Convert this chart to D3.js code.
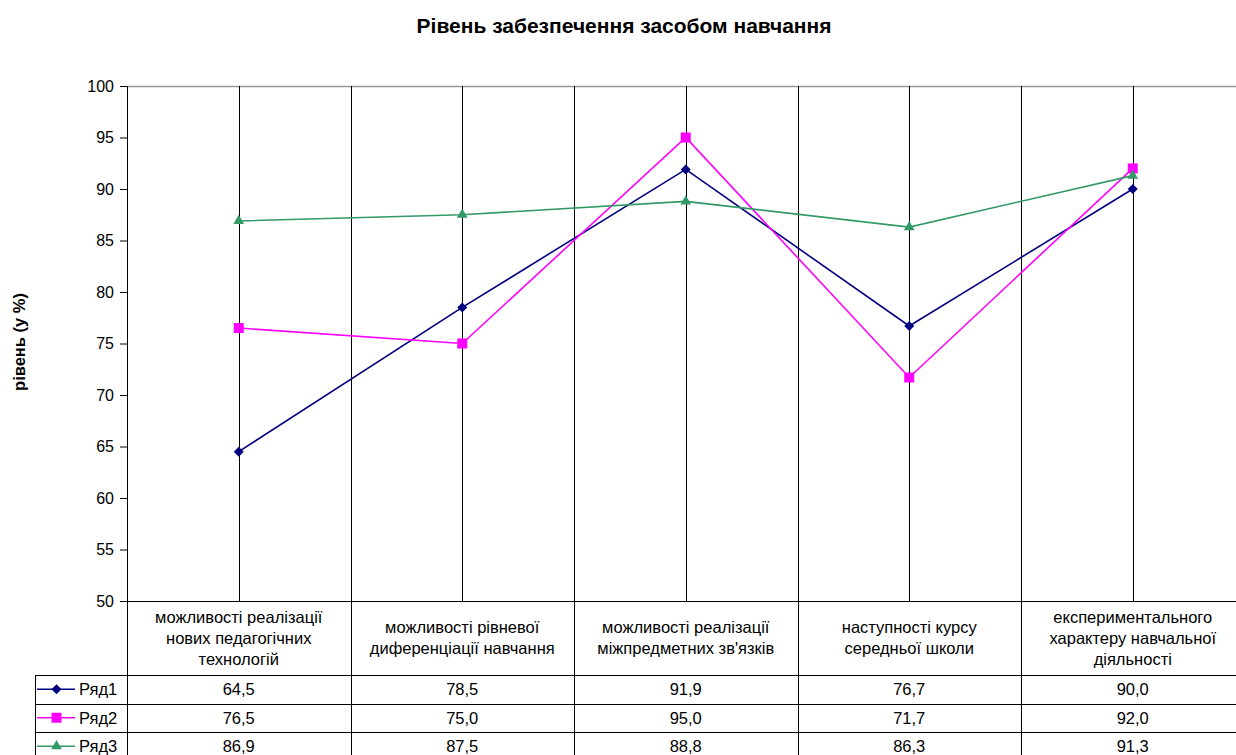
<!DOCTYPE html>
<html><head><meta charset="utf-8">
<script src="https://cdn.jsdelivr.net/npm/d3@7"></script>
<style>body{margin:0;background:#fff;overflow:hidden}svg{display:block}text{font-family:"Liberation Sans",Arial,sans-serif}</style>
</head><body>
<svg id="c" width="1236" height="755"></svg>
<script>
const title = "Рівень забезпечення засобом навчання";
const yTitle = "рівень (у %)";
const categories = [
  ["можливості реалізації","нових педагогічних","технологій"],
  ["можливості рівневої","диференціації навчання"],
  ["можливості реалізації","міжпредметних зв'язків"],
  ["наступності курсу","середньої школи"],
  ["експериментального","характеру навчальної","діяльності"]
];
const seriesNames = ["Ряд1","Ряд2","Ряд3"];
const ryad1 = [64.5, 78.5, 91.9, 76.7, 90.0];
const ryad2 = [76.5, 75.0, 95.0, 71.7, 92.0];
const ryad3 = [86.9, 87.5, 88.8, 86.3, 91.3];
const yTicks = [50,55,60,65,70,75,80,85,90,95,100];

(function(){
const series = [
  {name: seriesNames[0], values: ryad1, color: "#000080", sym: d3.symbolSquare, size: 50, rot: 45},
  {name: seriesNames[1], values: ryad2, color: "#FF00FF", sym: d3.symbolSquare, size: 100, rot: 0},
  {name: seriesNames[2], values: ryad3, color: "#339966", sym: d3.symbolTriangle, size: 50, rot: 0}
];

const svg = d3.select("#c");
const pL = 127, pR = 1244.5, pT = 86, pB = 601;
const idx = d3.range(categories.length);
const x = d3.scaleBand().domain(idx).range([pL, pR]);
const y = d3.scaleLinear().domain([50, 100]).range([pB, pT]);
const cx = i => x(i) + x.bandwidth()/2;
const FS = 16.5;

svg.append("text").attr("x", 624).attr("y", 33).attr("text-anchor","middle")
  .attr("font-size", 21).attr("font-weight","bold").text(title);

svg.append("text").attr("transform","translate(25,342) rotate(-90)").attr("text-anchor","middle")
  .attr("font-size", 16.5).attr("font-weight","bold").text(yTitle);

svg.append("line").attr("x1", pL).attr("x2", pR).attr("y1", pT+0.5).attr("y2", pT+0.5)
  .attr("stroke","#999").attr("stroke-width",1.5);

const g = svg.append("g");
idx.forEach(i => {
  g.append("line").attr("x1", Math.round(cx(i))+0.5).attr("x2", Math.round(cx(i))+0.5)
    .attr("y1", pT).attr("y2", pB).attr("stroke","#000").attr("stroke-width",1);
  if (i > 0) g.append("line").attr("x1", Math.round(x(i))+0.5).attr("x2", Math.round(x(i))+0.5)
    .attr("y1", pT).attr("y2", pB).attr("stroke","#000").attr("stroke-width",1);
});

const yAxis = d3.axisLeft(y).tickValues(yTicks).tickSize(7).tickPadding(6).tickFormat(d3.format("d"));
const ya = svg.append("g").attr("transform", `translate(${pL},0)`).call(yAxis);
ya.select(".domain").remove();
ya.selectAll("line").attr("stroke","#000");
ya.selectAll("text").attr("font-size", 16).attr("fill","#000").style("font-family","Liberation Sans, Arial, sans-serif");
svg.append("line").attr("x1", pL+0.5).attr("x2", pL+0.5).attr("y1", pT).attr("y2", pB).attr("stroke","#000");

const sym = s => d3.symbol().type(s.sym).size(s.size)();
const line = d3.line().x((d,i)=>cx(i)).y(d=>y(d));
series.forEach(s => {
  svg.append("path").datum(s.values).attr("d", line).attr("fill","none")
    .attr("stroke", s.color).attr("stroke-width", 1.6);
  svg.selectAll(null).data(s.values).enter().append("path")
    .attr("transform", (d,i)=>`translate(${cx(i)},${y(d)}) rotate(${s.rot})`)
    .attr("d", sym(s)).attr("fill", s.color);
});

const rowTops = [675, 703.5, 732, 760.5];
const tableLeft = 35;
const t = svg.append("g").attr("stroke","#000").attr("stroke-width",1);
t.append("line").attr("x1", pL).attr("x2", pR).attr("y1", pB+0.5).attr("y2", pB+0.5);
rowTops.forEach(r => t.append("line").attr("x1", tableLeft).attr("x2", pR).attr("y1", Math.round(r)+0.5).attr("y2", Math.round(r)+0.5));
idx.concat([categories.length]).forEach(i => {
  const xx = i === categories.length ? pR : x(i);
  t.append("line").attr("x1", Math.round(xx)+0.5).attr("x2", Math.round(xx)+0.5).attr("y1", pB).attr("y2", 762);
});
t.append("line").attr("x1", tableLeft+0.5).attr("x2", tableLeft+0.5).attr("y1", rowTops[0]).attr("y2", 762);

idx.forEach(i => {
  const lines = categories[i];
  const lh = 21;
  const mid = (pB + rowTops[0]) / 2;
  const start = mid - (lines.length-1)*lh/2;
  lines.forEach((ln, k) => {
    svg.append("text").attr("x", cx(i)).attr("y", start + k*lh).attr("dy","0.35em")
      .attr("text-anchor","middle").attr("font-size", FS).text(ln);
  });
});

const fmt = v => v.toFixed(1).replace(".", ",");
series.forEach((s, r) => {
  const my = (rowTops[r] + rowTops[r+1]) / 2;
  idx.forEach(i => {
    svg.append("text").attr("x", cx(i)).attr("y", my).attr("dy","0.35em")
      .attr("text-anchor","middle").attr("font-size", FS).text(fmt(s.values[i]));
  });
  svg.append("line").attr("x1", 37).attr("x2", 75).attr("y1", my).attr("y2", my)
    .attr("stroke", s.color).attr("stroke-width", 1.6);
  svg.append("path").attr("transform", `translate(56.5,${my}) rotate(${s.rot})`)
    .attr("d", sym(s)).attr("fill", s.color);
  svg.append("text").attr("x", 79).attr("y", my).attr("dy","0.35em").attr("font-size", FS).text(s.name);
});
})();
</script>
</body></html>
